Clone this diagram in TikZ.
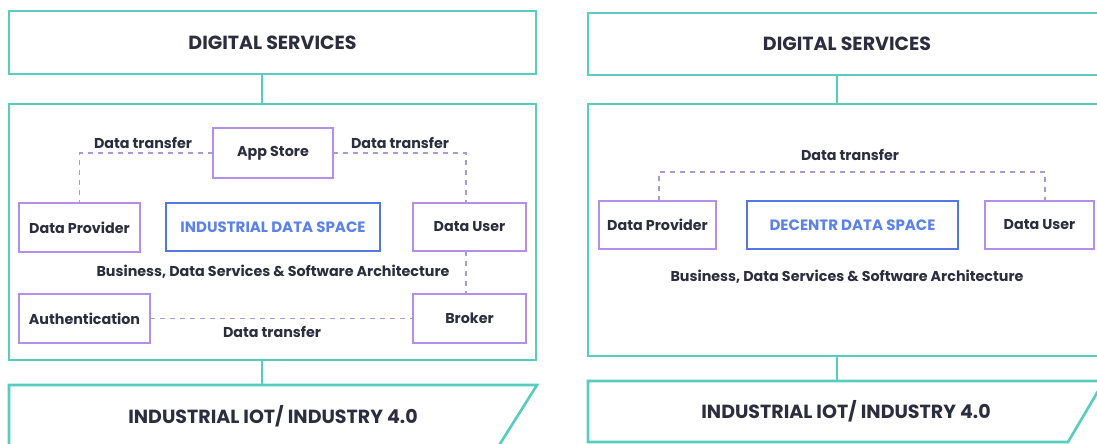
\documentclass[tikz,border=0pt]{standalone}
\usepackage{fontspec}
\setmainfont{Poppins}
\definecolor{tealc}{HTML}{56CDBF}
\definecolor{purplec}{HTML}{B48EE8}
\definecolor{bluec}{HTML}{5477E6}
\definecolor{bluetext}{HTML}{5C82E8}
\definecolor{dashc}{HTML}{A99AD6}
\definecolor{darkc}{HTML}{2C2E3F}
\tikzset{
  layerbox/.style={draw=tealc, line width=2.6pt, rectangle, inner sep=0pt, outer sep=0pt, text=darkc, font=\fontsize{19}{22}\selectfont\bfseries},
  layerline/.style={draw=tealc, line width=2.6pt},
  rolebox/.style={draw=purplec, line width=1.3pt, rectangle, inner sep=0pt, outer sep=0pt, fill=white, text=darkc, font=\fontsize{14.3}{16}\selectfont\bfseries},
  spacebox/.style={draw=bluec, line width=1.8pt, rectangle, inner sep=0pt, outer sep=0pt, fill=white, text=bluetext, font=\fontsize{15}{17}\selectfont\bfseries},
  flowline/.style={draw=dashc, line width=1.2pt, dash pattern=on 5pt off 5pt},
  lbl/.style={text=darkc, font=\fontsize{14.3}{16}\selectfont\bfseries, inner sep=0pt},
  headtext/.style={text=darkc, font=\fontsize{19}{22}\selectfont\bfseries, inner sep=0pt}
}
\begin{document}
\begin{tikzpicture}[x=1pt,y=-1pt]
\useasboundingbox (0,0) rectangle (1097,444);
\fill[white] (0,0) rectangle (1097,444);

% ---------- LEFT PANEL ----------
\node[layerbox, minimum width=527pt, minimum height=63pt] (LDS) at (272.5,42.5) {DIGITAL SERVICES};
\node[layerbox, minimum width=527pt, minimum height=256pt] (LMID) at (272.5,232) {};
\draw[layerline, line join=miter] (9,385) -- (537,385) -- (498,447) -- (9,447) -- cycle;
\coordinate (LBOTTOP) at (262,385);
\node[headtext] (LIOT) at (273,416) {INDUSTRIAL IOT/ INDUSTRY 4.0};
\draw[layerline] (LDS.south -| LBOTTOP) -- (LMID.north -| LBOTTOP);
\draw[layerline] (LMID.south -| LBOTTOP) -- (LBOTTOP);

\node[rolebox, minimum width=120pt, minimum height=50pt] (AS) at (273,153) {App Store};
\node[rolebox, minimum width=121pt, minimum height=49pt] (DP) at (79.5,227.5) {Data Provider};
\node[spacebox, minimum width=214pt, minimum height=48pt] (IDS) at (273,227) {INDUSTRIAL DATA SPACE};
\node[rolebox, minimum width=113pt, minimum height=48pt] (DU) at (469.5,227) {Data User};
\node[rolebox, minimum width=131pt, minimum height=49pt] (AU) at (84.5,318.5) {Authentication};
\node[rolebox, minimum width=113pt, minimum height=49pt] (BR) at (469.5,318.5) {Broker};

\coordinate (DUtop) at (466,203);
\coordinate (DUbot) at (466,251);
\coordinate (BRtop) at (466,294);
\draw[flowline] (AS.west) -| (DP.north);
\draw[flowline] (AS.east) -| (DUtop);
\draw[flowline] (DUbot) -- (BRtop);
\draw[flowline] (AU.east) -- (BR.west);

\node[lbl] (LT1) at (143,143) {Data transfer};
\node[lbl] (LT2) at (400,143) {Data transfer};
\node[lbl] (LT3) at (272,332) {Data transfer};
\node[lbl] (LARCH) at (273,272) {Business, Data Services \& Software Architecture};

% ---------- RIGHT PANEL ----------
\node[layerbox, minimum width=518pt, minimum height=62pt] (RDS) at (847,44) {DIGITAL SERVICES};
\node[layerbox, minimum width=518pt, minimum height=252pt] (RMID) at (847,230) {};
\draw[layerline, line join=miter] (588,381) -- (1104,381) -- (1068,442) -- (588,442) -- cycle;
\coordinate (RBOTTOP) at (837,381);
\node[headtext] (RIOT) at (846,411) {INDUSTRIAL IOT/ INDUSTRY 4.0};
\draw[layerline] (RDS.south -| RBOTTOP) -- (RMID.north -| RBOTTOP);
\draw[layerline] (RMID.south -| RBOTTOP) -- (RBOTTOP);

\node[rolebox, minimum width=117pt, minimum height=48pt] (DP2) at (657.5,225) {Data Provider};
\node[spacebox, minimum width=211pt, minimum height=48pt] (DDS) at (852.5,225) {DECENTR DATA SPACE};
\node[rolebox, minimum width=109pt, minimum height=48pt] (DU2) at (1039.5,225) {Data User};

\coordinate (DP2top) at (659,201);
\coordinate (DU2top) at (1045,201);
\draw[flowline] (DP2top) -- (659,172) -- (1045,172) -- (DU2top);

\node[lbl] (RT1) at (850,155) {Data transfer};
\node[lbl] (RARCH) at (847,277) {Business, Data Services \& Software Architecture};
\end{tikzpicture}
\end{document}
